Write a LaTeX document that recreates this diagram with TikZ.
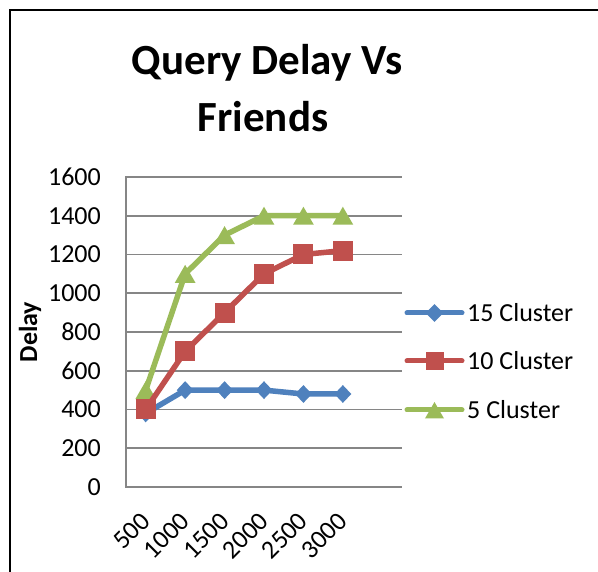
\documentclass[tikz,border=0pt]{standalone}
\usepackage{fontspec}
\setmainfont{Carlito}
\usetikzlibrary{shapes.geometric}
\definecolor{sblue}{HTML}{4F81BD}
\definecolor{sred}{HTML}{C0504D}
\definecolor{sgreen}{HTML}{9BBB59}
\definecolor{gridgray}{HTML}{868686}
\begin{document}
\begin{tikzpicture}[x=1pt,y=-1pt,
  gridline/.style={draw=gridgray, line width=1.6pt},
  series/.style={line width=5.5pt, line join=round, line cap=round},
  dmark/.style={diamond, fill=sblue, inner sep=0pt, minimum width=17pt, minimum height=18pt},
  smark/.style={rectangle, fill=sred, inner sep=0pt, minimum size=20pt},
  tmark/.style={regular polygon, regular polygon sides=3, fill=sgreen, inner sep=0pt, minimum size=24pt, yshift=-3pt},
  ticklab/.style={font=\fontsize{26}{30}\selectfont, inner sep=0pt},
  titlefont/.style={font=\fontsize{43}{50}\selectfont\bfseries, inner sep=0pt}
]
\useasboundingbox (0,0) rectangle (598,572);
\fill[white] (0,0) rectangle (598,572);
% frame
\draw[line width=2pt] (600,10) -- (10,10) -- (10,574);

% title
\node[titlefont, anchor=base] (t1) at (267,75) {Query Delay Vs};
\node[titlefont, anchor=base] (t2) at (263,132) {Friends};

% gridlines and y tick labels
\foreach \v [count=\i] in {0,200,400,600,800,1000,1200,1400,1600}{
  \pgfmathsetmacro{\yy}{487-\v*0.19375}
  \ifnum\i>1
    \draw[gridline] (126,\yy) -- (402,\yy);
  \fi
  \node[ticklab, anchor=east] (y\i) at (101,\yy) {\v};
}
% axes
\draw[gridline] (126,176.5) -- (126,487) -- (402,487);

% y axis title
\node[font=\fontsize{26}{30}\selectfont\bfseries, rotate=90, inner sep=0pt] (ytitle) at (30,332) {Delay};

% x tick labels
\foreach \lab [count=\i] in {500,1000,1500,2000,2500,3000}{
  \pgfmathsetmacro{\xx}{126+(\i-0.5)*39.43}
  \node[ticklab, rotate=45, anchor=east] (x\i) at (\xx,517) {\lab};
}

% data coordinates
\foreach \v [count=\i] in {380,500,500,500,480,480}{
  \coordinate (b\i) at ({126+(\i-0.5)*39.43},{487-\v*0.19375});
}
\foreach \v [count=\i] in {400,700,900,1100,1200,1220}{
  \coordinate (r\i) at ({126+(\i-0.5)*39.43},{487-\v*0.19375});
}
\foreach \v [count=\i] in {500,1100,1300,1400,1400,1400}{
  \coordinate (g\i) at ({126+(\i-0.5)*39.43},{487-\v*0.19375});
}

% 5 Cluster (green)
\draw[series, sgreen] (g1) -- (g2) -- (g3) -- (g4) -- (g5) -- (g6);
\foreach \i in {1,...,6}{ \node[tmark] (gm\i) at (g\i) {}; }
% 15 Cluster (blue)
\draw[series, sblue] (b1) -- (b2) -- (b3) -- (b4) -- (b5) -- (b6);
\foreach \i in {1,...,6}{ \node[dmark] (bm\i) at (b\i) {}; }
% 10 Cluster (red)
\draw[series, sred] (r1) -- (r2) -- (r3) -- (r4) -- (r5) -- (r6);
\foreach \i in {1,...,6}{ \node[smark] (rm\i) at (r\i) {}; }

% legend
\coordinate (lb1) at (407,313); \coordinate (lb2) at (462,313);
\coordinate (lr1) at (407,361); \coordinate (lr2) at (462,361);
\coordinate (lg1) at (407,410); \coordinate (lg2) at (462,410);
\draw[series, sblue, line width=5pt] (lb1) -- (lb2);
\node[dmark, minimum width=18pt, minimum height=18pt] (lbm) at (434.5,313) {};
\draw[series, sred, line width=5pt] (lr1) -- (lr2);
\node[smark, minimum size=18pt] (lrm) at (434.5,361) {};
\draw[series, sgreen, line width=5pt] (lg1) -- (lg2);
\node[tmark, minimum size=22pt] (lgm) at (434.5,410) {};
\node[ticklab, anchor=west] (lbt) at (467,313) {15 Cluster};
\node[ticklab, anchor=west] (lrt) at (467,361) {10 Cluster};
\node[ticklab, anchor=west] (lgt) at (467,410) {5 Cluster};
\end{tikzpicture}
\end{document}
